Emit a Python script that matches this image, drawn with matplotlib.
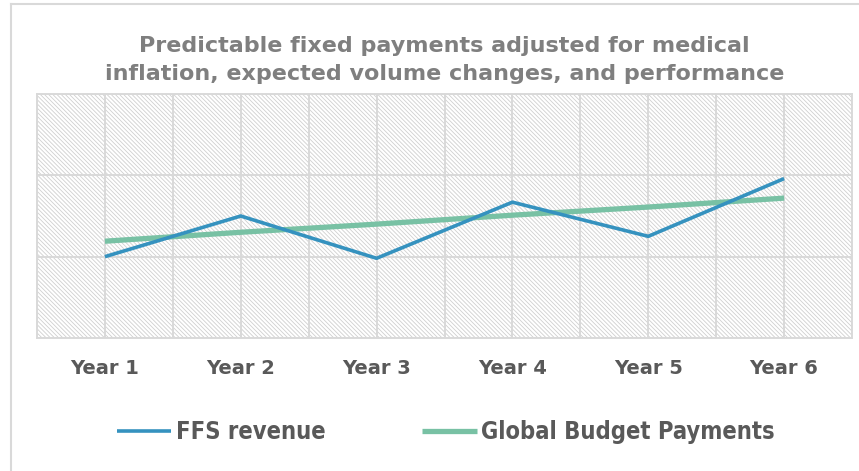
import matplotlib
matplotlib.use("Agg")
import matplotlib.pyplot as plt
from matplotlib.patches import Rectangle
from matplotlib.lines import Line2D

# values (y axis has no labels, gridlines at 0..3)
years = ["Year 1", "Year 2", "Year 3", "Year 4", "Year 5", "Year 6"]
ffs_revenue = [1.00, 1.50, 0.98, 1.67, 1.25, 1.96]
global_budget = [1.19, 1.30, 1.40, 1.51, 1.61, 1.72]

title = ("Predictable fixed payments adjusted for medical\n"
         "inflation, expected volume changes, and performance")

text_grey = "#595959"
grid_grey = "#d9d9d9"

fig = plt.figure(figsize=(8.59, 4.71), dpi=100)
ax = fig.add_axes([37 / 859, 1 - 338 / 471, 815 / 859, 244 / 471])

x = list(range(len(years)))

# hatched plot area
plt.rcParams["hatch.linewidth"] = 0.6
ax.add_patch(Rectangle((0, 0), 1, 1, transform=ax.transAxes, facecolor="white",
                       edgecolor="#cfcfcf", hatch="\\" * 8, lw=0, zorder=0))

ax.plot(x, global_budget, color="#78c1a4", lw=3.8, solid_capstyle="butt",
        label="Global Budget Payments", zorder=3)
ax.plot(x, ffs_revenue, color="#3592bf", lw=2.6, solid_capstyle="butt",
        label="FFS revenue", zorder=4)

ax.set_xlim(-0.5, len(years) - 0.5)
ax.set_ylim(0, 3)
ax.set_xticks(x)
ax.set_xticklabels(years)
ax.set_xticks([i - 0.5 for i in range(len(years) + 1)], minor=True)
ax.set_yticks([0, 1, 2, 3])
ax.set_yticklabels([])
ax.grid(True, which="both", color=grid_grey, lw=1.4)
for l in ax.get_xgridlines() + ax.get_ygridlines():
    l.set_zorder(1)
ax.tick_params(axis="both", which="both", length=0)
ax.tick_params(axis="x", pad=15, labelsize=14, labelcolor=text_grey)
for lab in ax.get_xticklabels():
    lab.set_fontweight("bold")
for s in ax.spines.values():
    s.set_color(grid_grey)
    s.set_linewidth(1.4)

fig.text((37 + 852) / 2 / 859, 1 - 60 / 471, title, ha="center", va="center",
         fontsize=16, fontweight="bold", color="#7f7f7f", linespacing=1.5)

handles, labels = ax.get_legend_handles_labels()
leg = fig.legend(handles[::-1], labels[::-1], loc="center",
                 bbox_to_anchor=(446 / 859, 1 - 432 / 471), ncol=2, frameon=False,
                 prop={"weight": "bold", "size": 17, "stretch": "condensed"},
                 handlelength=2.3, handletextpad=0.2, columnspacing=4.1)
for t in leg.get_texts():
    t.set_color(text_grey)

# light frame around the chart
fig.add_artist(Line2D([11 / 859, 11 / 859], [0, 1 - 4 / 471], color=grid_grey, lw=1.5))
fig.add_artist(Line2D([11 / 859, 1], [1 - 4 / 471, 1 - 4 / 471], color=grid_grey, lw=1.5))

fig.savefig("out.png", dpi=100)
